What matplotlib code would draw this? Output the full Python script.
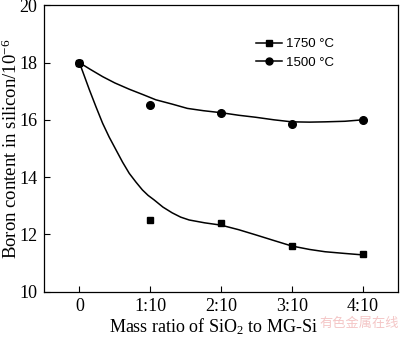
import matplotlib.pyplot as plt
from matplotlib.lines import Line2D

plt.rcParams['font.family'] = 'Liberation Serif'
plt.rcParams['mathtext.fontset'] = 'custom'
plt.rcParams['mathtext.rm'] = 'Liberation Serif'
plt.rcParams['mathtext.it'] = 'Liberation Serif:italic'

#Data
tick_labels = ['0', '1:10', '2:10', '3:10', '4:10']
x_pts = [0, 1, 2, 3, 4]
b1750 = [18.0, 12.49, 12.38, 11.59, 11.30]
b1500 = [18.0, 16.53, 16.23, 15.86, 16.0]

#fitted curves as drawn in the figure
fit1750_x = [0, 0.07, 0.141, 0.235, 0.328, 0.42, 0.517, 0.61, 0.704, 0.80, 0.89, 0.97, 1.056, 1.18, 1.31, 1.43, 1.55, 1.77,
             2.0, 2.25, 2.49, 2.75, 3.0, 3.25, 3.47, 3.75, 4.0]
fit1750_y = [18.0, 17.53, 17.05, 16.45, 15.88, 15.40, 14.95, 14.52, 14.13, 13.82, 13.55, 13.36, 13.2, 12.95, 12.75, 12.6, 12.5, 12.4,
             12.32, 12.16, 11.98, 11.78, 11.59, 11.47, 11.39, 11.33, 11.28]
fit1500_x = [0, 0.15, 0.328, 0.5, 0.704, 0.9, 1.08, 1.31, 1.525, 1.75, 2.0, 2.25, 2.49, 2.75, 3.0, 3.25, 3.47, 3.75, 4.0]
fit1500_y = [18.0, 17.77, 17.51, 17.29, 17.07, 16.88, 16.70, 16.55, 16.40, 16.32, 16.25, 16.16, 16.09, 16.0, 15.93, 15.92, 15.93, 15.95, 16.0]

fig = plt.figure(figsize=(4, 3.37), dpi=100)
ax = fig.add_axes([0.11, 0.135, 0.885, 0.849])

ax.plot(fit1750_x, fit1750_y, color='black', lw=1.1, solid_joinstyle='round')
ax.plot(fit1500_x, fit1500_y, color='black', lw=1.1, solid_joinstyle='round')
ax.plot(x_pts, b1750, 's', color='black', ms=5, ls='none')
ax.plot(x_pts, b1500, 'o', color='black', ms=5.5, ls='none')

ax.set_xlim(-0.5, 4.5)
ax.set_ylim(10, 20)
ax.set_xticks(x_pts)
ax.set_xticklabels(tick_labels)
ax.set_yticks([10, 12, 14, 16, 18, 20])
ax.tick_params(direction='in', length=4, width=0.8, labelsize=13, pad=5)
for s in ax.spines.values():
    s.set_linewidth(0.9)

ax.set_xlabel('Mass ratio of SiO$_2$ to MG-Si', fontsize=13)
ax.set_ylabel('Boron content in silicon/10$^{-6}$', fontsize=13.5)
ax.xaxis.set_label_coords(0.48, -0.085)
ax.yaxis.set_label_coords(-0.066, 0.5)

handles = [Line2D([], [], color='black', lw=1.1, marker='s', ms=4.5),
           Line2D([], [], color='black', lw=1.1, marker='o', ms=5)]
ax.legend(handles, ['1750 \u00b0C', '1500 \u00b0C'], loc='center left',
          bbox_to_anchor=(0.584, 0.832), borderaxespad=0, frameon=False, handlelength=2.0,
          handletextpad=0.3, labelspacing=0.5, prop={'family': 'Liberation Sans', 'size': 9.5})

fig.text(0.998, 0.04, '有色金属在线', color='#f4c6c6', fontsize=9.5,
         family=['Noto Sans CJK SC', 'DejaVu Sans'], ha='right', va='center')

plt.savefig('out.png', dpi=100)
